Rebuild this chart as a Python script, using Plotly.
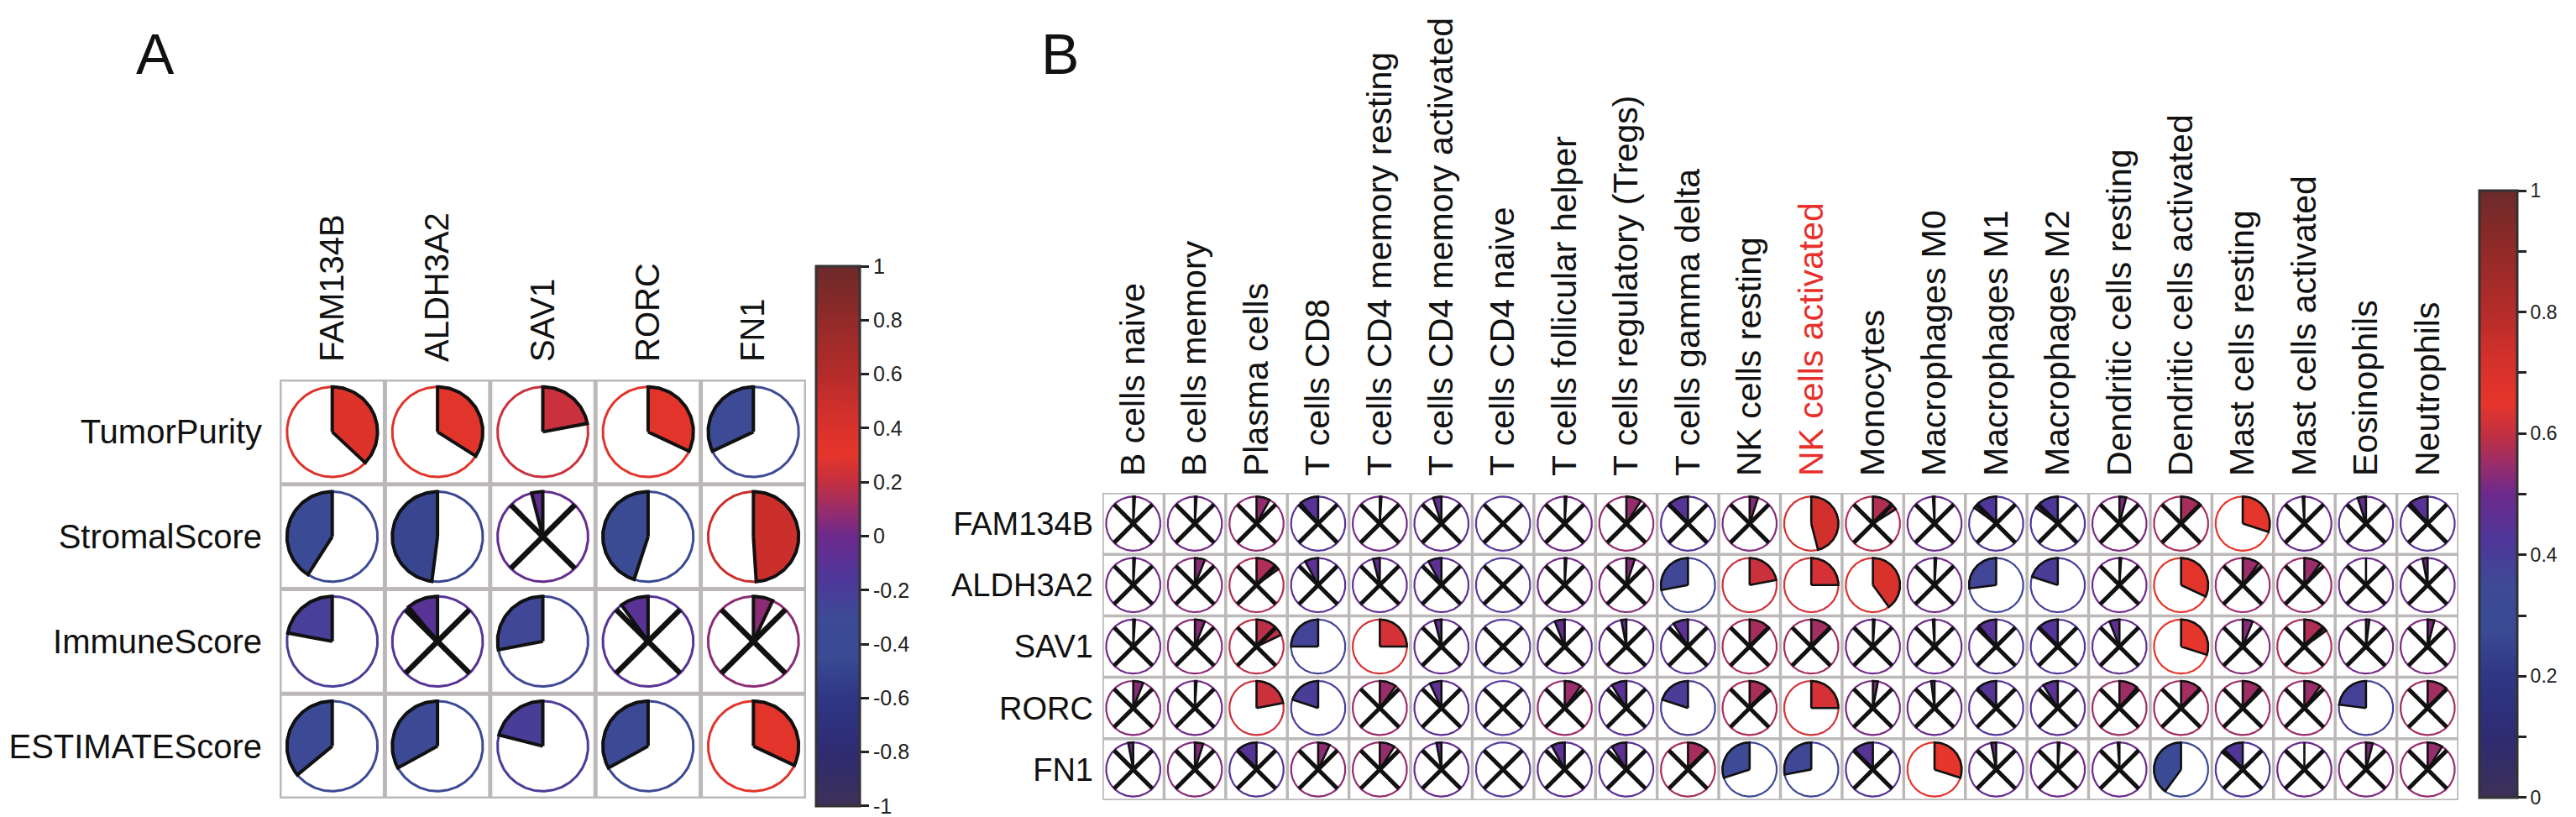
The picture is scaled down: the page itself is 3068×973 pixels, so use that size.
import math
import numpy as np
import plotly.graph_objects as go

W, H = 3068, 973
FONT = "Liberation Sans, Arial, sans-serif"

# ---------------- data : panel A ----------------
A_rows = ["TumorPurity", "StromalScore", "ImmuneScore", "ESTIMATEScore"]
A_cols = ["FAM134B", "ALDH3A2", "SAV1", "RORC", "FN1"]
A_TumorPurity = [0.37, 0.34, 0.22, 0.32, -0.32]
A_StromalScore = [-0.41, -0.48, -0.04, -0.45, 0.49]
A_ImmuneScore = [-0.22, -0.11, -0.28, -0.10, 0.07]
A_ESTIMATEScore = [-0.36, -0.33, -0.21, -0.33, 0.32]
A_sig_TumorPurity = [1, 1, 1, 1, 1]
A_sig_StromalScore = [1, 1, 0, 1, 1]
A_sig_ImmuneScore = [1, 0, 1, 0, 0]
A_sig_ESTIMATEScore = [1, 1, 1, 1, 1]

# ---------------- data : panel B ----------------
B_rows = ["FAM134B", "ALDH3A2", "SAV1", "RORC", "FN1"]
B_cols = ["B cells naive", "B cells memory", "Plasma cells", "T cells CD8",
          "T cells CD4 memory resting", "T cells CD4 memory activated",
          "T cells CD4 naive", "T cells follicular helper",
          "T cells regulatory (Tregs)", "T cells gamma delta", "NK cells resting",
          "NK cells activated", "Monocytes", "Macrophages M0", "Macrophages M1",
          "Macrophages M2", "Dendritic cells resting", "Dendritic cells activated",
          "Mast cells resting", "Mast cells activated", "Eosinophils", "Neutrophils"]
B_highlight = "NK cells activated"
NA = None
B_FAM134B = [0.01, 0.01, 0.08, -0.11, 0.01, -0.05, NA, 0.01, 0.09, -0.12, 0.05, 0.46,
             0.16, -0.01, -0.15, -0.15, 0.04, 0.13, 0.30, -0.01, -0.05, -0.11]
B_ALDH3A2 = [0.01, 0.06, 0.15, -0.08, -0.04, -0.08, NA, 0.01, 0.05, -0.28, 0.22, 0.25,
             0.40, 0.01, -0.27, -0.20, 0.01, 0.32, 0.10, 0.10, 0.00, -0.03]
B_SAV1 = [0.01, 0.06, 0.18, -0.25, 0.25, -0.04, NA, -0.06, -0.03, -0.09, 0.13, 0.12,
          0.01, -0.01, -0.11, -0.13, -0.06, 0.30, 0.06, 0.15, 0.02, 0.04]
B_RORC = [0.06, 0.01, 0.22, -0.20, 0.10, -0.07, NA, 0.10, -0.09, -0.20, 0.14, 0.25,
          0.03, -0.02, -0.12, -0.09, 0.11, 0.12, 0.11, 0.10, -0.23, 0.12]
B_FN1 = [-0.03, 0.05, -0.12, 0.07, 0.09, -0.03, NA, -0.08, -0.09, 0.13, -0.30, -0.28,
         -0.12, 0.30, -0.03, 0.01, -0.01, -0.40, -0.14, 0.00, 0.04, 0.09]
# significant cells (no cross), 1-based column numbers
B_sig_FAM134B = [12, 19]
B_sig_ALDH3A2 = [10, 11, 12, 13, 15, 16, 18]
B_sig_SAV1 = [4, 5, 18]
B_sig_RORC = [3, 4, 10, 12, 21]
B_sig_FN1 = [11, 12, 14, 18]

A_ticks = [-0.9999, -0.8, -0.6, -0.4, -0.2, 0, 0.2, 0.4, 0.6, 0.8, 0.9999]
A_ticktext = ["-1", "-0.8", "-0.6", "-0.4", "-0.2", "0", "0.2", "0.4", "0.6", "0.8", "1"]
B_ticks = [0.0001, 0.1, 0.2, 0.3, 0.4, 0.5, 0.6, 0.7, 0.8, 0.9, 0.9999]
B_ticktext = ["0", "", "0.2", "", "0.4", "", "0.6", "", "0.8", "", "1"]

# colour ramp (value -> colour)
RAMP_V = [-1.0, -0.8, -0.6, -0.45, -0.3, -0.15, 0.0, 0.1, 0.2, 0.3, 0.45, 0.6, 0.8, 1.0]
RAMP_C = ["#3d3157", "#2e2b72", "#2f3785", "#3a4a93", "#3d4a96", "#4f3699", "#6c2a8c",
          "#9a2d6a", "#c33040", "#e6352b", "#d3302c", "#b42c2a", "#922a28", "#6b2a2a"]
NA_RING = "#5a3c9c"


def hex2rgb(h):
    h = h.lstrip("#")
    return [int(h[k:k + 2], 16) for k in (0, 2, 4)]


def color_of(v):
    if v is None:
        return NA_RING
    v = max(-1.0, min(1.0, v))
    for k in range(len(RAMP_V) - 1):
        if RAMP_V[k] <= v <= RAMP_V[k + 1]:
            f = (v - RAMP_V[k]) / (RAMP_V[k + 1] - RAMP_V[k])
            a, b = hex2rgb(RAMP_C[k]), hex2rgb(RAMP_C[k + 1])
            c = [round(a[i] + (b[i] - a[i]) * f) for i in range(3)]
            return "rgb(%d,%d,%d)" % tuple(c)
    return RAMP_C[-1]


COLORSCALE = [[(v + 1) / 2, c] for v, c in zip(RAMP_V, RAMP_C)]

fig = go.Figure()


def add_panel(vals, sig, xa, ya, R, ring_w, edge_w, x_w, grid_w):
    nrow, ncol = len(vals), len(vals[0])
    # cell grid
    for j in range(ncol + 1):
        fig.add_shape(type="line", xref=xa, yref=ya, x0=j - 0.5, x1=j - 0.5,
                      y0=-0.5, y1=nrow - 0.5, line=dict(color="#bcb8b8", width=grid_w),
                      layer="below")
    for i in range(nrow + 1):
        fig.add_shape(type="line", xref=xa, yref=ya, x0=-0.5, x1=ncol - 0.5,
                      y0=i - 0.5, y1=i - 0.5, line=dict(color="#bcb8b8", width=grid_w),
                      layer="below")
    tt = np.linspace(0, 2 * np.pi, 181)
    cross_x, cross_y = [], []
    for i in range(nrow):
        for j in range(ncol):
            v = vals[i][j]
            col = color_of(v)
            # ring
            fig.add_trace(go.Scatter(x=j + R * np.sin(tt), y=i - R * np.cos(tt),
                                     mode="lines", line=dict(color=col, width=ring_w),
                                     xaxis=xa, yaxis=ya, hoverinfo="skip",
                                     showlegend=False))
            # pie wedge: clockwise from 12 o'clock for r>0, anticlockwise for r<0
            if v is not None:
                n = max(2, int(abs(v) * 180) + 2)
                t = np.linspace(0, 2 * np.pi * abs(v), n) * (1 if v >= 0 else -1)
                xs = [j] + list(j + R * np.sin(t)) + [j]
                ys = [i] + list(i - R * np.cos(t)) + [i]
                fig.add_trace(go.Scatter(x=xs, y=ys, mode="lines", fill="toself",
                                         fillcolor=col,
                                         line=dict(color="#111111", width=edge_w),
                                         xaxis=xa, yaxis=ya, hoverinfo="skip",
                                         showlegend=False))
            if not sig[i][j]:
                d = R * math.sqrt(0.5)
                cross_x += [j - d, j + d, None, j - d, j + d, None]
                cross_y += [i - d, i + d, None, i + d, i - d, None]
    if cross_x:
        fig.add_trace(go.Scatter(x=cross_x, y=cross_y, mode="lines",
                                 line=dict(color="#111111", width=x_w),
                                 xaxis=xa, yaxis=ya, hoverinfo="skip", showlegend=False))


A_vals = [A_TumorPurity, A_StromalScore, A_ImmuneScore, A_ESTIMATEScore]
A_sig = [A_sig_TumorPurity, A_sig_StromalScore, A_sig_ImmuneScore, A_sig_ESTIMATEScore]
B_vals = [B_FAM134B, B_ALDH3A2, B_SAV1, B_RORC, B_FN1]
B_sig_lists = [B_sig_FAM134B, B_sig_ALDH3A2, B_sig_SAV1, B_sig_RORC, B_sig_FN1]
B_sig = [[1 if (j + 1) in s else 0 for j in range(len(B_cols))] for s in B_sig_lists]

add_panel(A_vals, A_sig, "x", "y", R=0.43, ring_w=3, edge_w=4, x_w=6.5, grid_w=5)
add_panel(B_vals, B_sig, "x2", "y2", R=0.44, ring_w=2.2, edge_w=2.6, x_w=5, grid_w=3.5)

# colour bars (dummy invisible markers)
fig.add_trace(go.Scatter(
    x=[0], y=[0], xaxis="x", yaxis="y", mode="markers", hoverinfo="skip", showlegend=False,
    marker=dict(size=1, opacity=0, color=[0], cmin=-1, cmax=1, colorscale=COLORSCALE,
                showscale=True,
                colorbar=dict(x=972 / W, xanchor="left", xref="paper",
                              y=1 - 638.5 / H, yanchor="middle", yref="paper",
                              len=643, lenmode="pixels", thickness=52,
                              thicknessmode="pixels", xpad=0, ypad=0,
                              outlinewidth=3, outlinecolor="#333333",
                              tickvals=A_ticks, ticktext=A_ticktext, ticks="outside",
                              ticklen=10, tickwidth=3, tickcolor="#222222",
                              ticklabeloverflow="allow",
                              tickfont=dict(size=25, family=FONT, color="#222222")))))
fig.add_trace(go.Scatter(
    x=[0], y=[0], xaxis="x2", yaxis="y2", mode="markers", hoverinfo="skip",
    showlegend=False,
    marker=dict(size=1, opacity=0, color=[0.5], cmin=0, cmax=1, colorscale=COLORSCALE,
                showscale=True,
                colorbar=dict(x=2953 / W, xanchor="left", xref="paper",
                              y=1 - 588.5 / H, yanchor="middle", yref="paper",
                              len=723, lenmode="pixels", thickness=45,
                              thicknessmode="pixels", xpad=0, ypad=0,
                              outlinewidth=3, outlinecolor="#333333",
                              tickvals=B_ticks, ticktext=B_ticktext, ticks="outside",
                              ticklen=10, tickwidth=3, tickcolor="#222222",
                              ticklabeloverflow="allow",
                              tickfont=dict(size=23, family=FONT, color="#222222")))))

B_ticklabels = [('<span style="color:#e8302a">%s</span>' % c) if c == B_highlight else c
                for c in B_cols]

axcommon = dict(showgrid=False, zeroline=False, showline=False, ticks="",
                automargin=False, fixedrange=True)
fig.update_layout(
    width=W, height=H, margin=dict(l=0, r=0, t=0, b=0, autoexpand=False),
    paper_bgcolor="white", plot_bgcolor="white",
    font=dict(family=FONT, color="#111111"),
    xaxis=dict(domain=[333 / W, 960 / W], range=[-0.5, 4.5], anchor="y", side="top",
               tickvals=list(range(len(A_cols))), ticktext=A_cols, tickangle=-90,
               tickfont=dict(size=40, family=FONT, color="#111111"),
               ticklabelstandoff=20, **axcommon),
    yaxis=dict(domain=[1 - 951 / H, 1 - 452 / H], range=[len(A_rows) - 0.5, -0.5],
               anchor="x", tickvals=list(range(len(A_rows))), ticktext=A_rows,
               tickfont=dict(size=40, family=FONT, color="#111111"),
               ticklabelstandoff=20, **axcommon),
    xaxis2=dict(domain=[1313 / W, 2928 / W], range=[-0.5, len(B_cols) - 0.5],
                anchor="y2", side="top", tickvals=list(range(len(B_cols))),
                ticktext=B_ticklabels, tickangle=-90,
                tickfont=dict(size=41, family=FONT, color="#111111"),
                ticklabelstandoff=19, **axcommon),
    yaxis2=dict(domain=[1 - 953 / H, 1 - 587 / H], range=[len(B_rows) - 0.5, -0.5],
                anchor="x2", tickvals=list(range(len(B_rows))), ticktext=B_rows,
                tickfont=dict(size=38, family=FONT, color="#111111"),
                ticklabelstandoff=10, **axcommon),
    annotations=[
        dict(text="A", x=185 / W, y=1 - 64 / H, xref="paper", yref="paper",
             showarrow=False, font=dict(size=68, family=FONT, color="#111111"),
             xanchor="center", yanchor="middle"),
        dict(text="B", x=1262 / W, y=1 - 64 / H, xref="paper", yref="paper",
             showarrow=False, font=dict(size=68, family=FONT, color="#111111"),
             xanchor="center", yanchor="middle"),
    ],
)

fig.write_html("out.html", config={"displayModeBar": False},
               post_script="document.body.style.margin='0';")
